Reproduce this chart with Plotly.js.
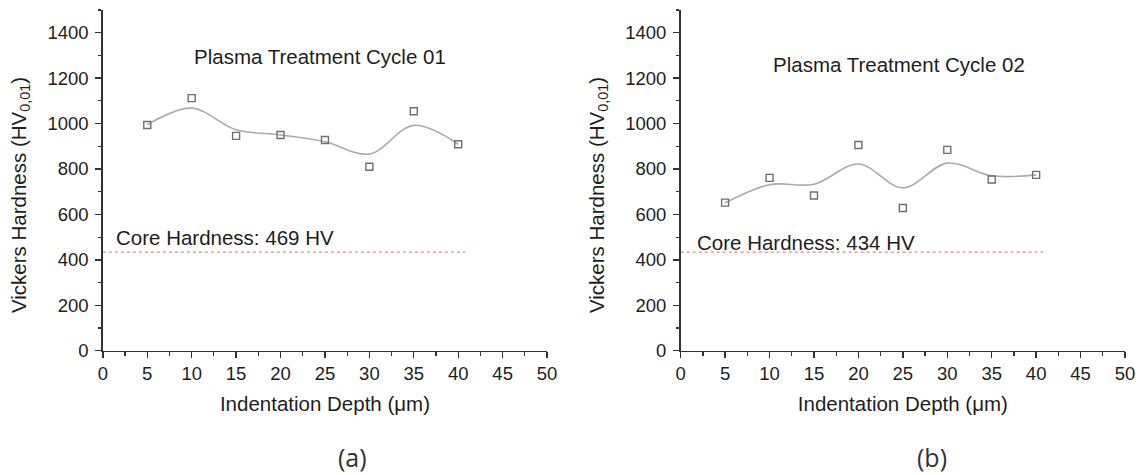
<!DOCTYPE html>
<html>
<head>
<meta charset="utf-8">
<script src="https://cdn.plot.ly/plotly-3.0.1.min.js"></script>
<style>
  html, body { margin: 0; padding: 0; background: #ffffff; }
  #chart { width: 1144px; height: 475px; }
</style>
</head>
<body>
<div id="chart"></div>
<script>
// ---- data ----
const depth = [5, 10, 15, 20, 25, 30, 35, 40];

// Panel (a): Plasma Treatment Cycle 01
const hardnessA = [994, 1112, 946, 950, 928, 810, 1054, 909];
const fitA      = [995, 1068, 973, 950, 920, 866, 992, 909];

// Panel (b): Plasma Treatment Cycle 02
const hardnessB = [652, 761, 683, 906, 628, 884, 754, 774];
const fitB      = [651, 731, 733, 822, 717, 826, 770, 774];

const coreX = [0, 40.8];
const coreA = [434, 434];
const coreB = [434, 434];

const titleA = 'Plasma Treatment Cycle 01';
const titleB = 'Plasma Treatment Cycle 02';
const coreLabelA = 'Core Hardness: 469 HV';
const coreLabelB = 'Core Hardness: 434 HV';
const panelLabels = ['(a)', '(b)'];

const xTitle = 'Indentation Depth (\u03bcm)';
const yTitle = 'Vickers Hardness (HV<sub>0,01</sub>)';

// ---- styling ----
const FONT = '"Liberation Sans", Arial, sans-serif';
const TXT = { family: FONT, size: 20.5, color: '#1e1e1e' };
const markerStyle = { symbol: 'square-open', size: 7, color: '#707070', line: { width: 1.4, color: '#707070' } };
const fitStyle = { color: '#ababab', width: 1.6, shape: 'spline', smoothing: 1 };
const coreStyle = { color: '#e08a8a', width: 1.3, dash: 'dot' };

function traces(xa, ya, pts, fit, core) {
  return [
    { x: depth, y: fit, xaxis: xa, yaxis: ya, type: 'scatter', mode: 'lines', line: fitStyle, hoverinfo: 'skip', showlegend: false },
    { x: depth, y: pts, xaxis: xa, yaxis: ya, type: 'scatter', mode: 'markers', marker: markerStyle, showlegend: false },
    { x: coreX, y: core, xaxis: xa, yaxis: ya, type: 'scatter', mode: 'lines', line: coreStyle, hoverinfo: 'skip', showlegend: false }
  ];
}

const data = [].concat(
  traces('x', 'y', hardnessA, fitA, coreA),
  traces('x2', 'y2', hardnessB, fitB, coreB)
);

function xAxis(domain, anchor) {
  return {
    domain: domain, anchor: anchor, range: [0, 50], dtick: 5, tick0: 0,
    showline: true, linecolor: '#333', linewidth: 1.6, mirror: false,
    ticks: 'outside', ticklen: 6, tickwidth: 1.4, tickcolor: '#333',
    minor: { dtick: 2.5, ticks: 'outside', ticklen: 3.5, tickwidth: 1.2, tickcolor: '#333', showgrid: false },
    showgrid: false, zeroline: false,
    tickfont: { family: FONT, size: 18.5, color: '#1e1e1e' },
    title: { text: xTitle, font: TXT, standoff: 13 },
    fixedrange: true
  };
}
function yAxis(domain, anchor) {
  return {
    domain: domain, anchor: anchor, range: [0, 1500], dtick: 200, tick0: 0,
    showline: true, linecolor: '#333', linewidth: 1.6, mirror: false,
    ticks: 'outside', ticklen: 6, tickwidth: 1.4, tickcolor: '#333',
    minor: { dtick: 100, ticks: 'outside', ticklen: 3.5, tickwidth: 1.2, tickcolor: '#333', showgrid: false },
    showgrid: false, zeroline: false,
    ticklabelstandoff: 3,
    tickfont: { family: FONT, size: 18.5, color: '#1e1e1e' },
    fixedrange: true
  };
}

const yDom = [0.2617, 0.9789];
const layout = {
  width: 1144, height: 475,
  margin: { l: 0, r: 0, t: 0, b: 0 },
  paper_bgcolor: '#ffffff', plot_bgcolor: '#ffffff',
  showlegend: false,
  xaxis: xAxis([0.0899, 0.4782], 'y'),
  yaxis: yAxis(yDom, 'x'),
  xaxis2: xAxis([0.5950, 0.9834], 'y2'),
  yaxis2: yAxis(yDom, 'x2'),
  annotations: [
    { xref: 'x', yref: 'y', x: 24.4, y: 1295, text: titleA, xanchor: 'center', showarrow: false, font: TXT },
    { xref: 'x2', yref: 'y2', x: 24.6, y: 1262, text: titleB, xanchor: 'center', showarrow: false, font: TXT },
    { xref: 'x', yref: 'y', x: 1.3, y: 500, text: coreLabelA, xanchor: 'left', showarrow: false, font: TXT },
    { xref: 'x2', yref: 'y2', x: 1.6, y: 476, text: coreLabelB, xanchor: 'left', showarrow: false, font: TXT },
    { xref: 'paper', yref: 'paper', x: 20 / 1144, y: (475 - 195) / 475, xanchor: 'center', yanchor: 'middle', text: yTitle, textangle: -90, showarrow: false, font: TXT },
    { xref: 'paper', yref: 'paper', x: 598 / 1144, y: (475 - 195) / 475, xanchor: 'center', yanchor: 'middle', text: yTitle, textangle: -90, showarrow: false, font: TXT },
    { xref: 'paper', yref: 'paper', x: 352 / 1144, y: (475 - 457) / 475, xanchor: 'center', yanchor: 'middle', text: panelLabels[0], showarrow: false, font: { family: 'Open Sans, Noto Sans, sans-serif', size: 25, color: '#333' } },
    { xref: 'paper', yref: 'paper', x: 932 / 1144, y: (475 - 457) / 475, xanchor: 'center', yanchor: 'middle', text: panelLabels[1], showarrow: false, font: { family: 'Open Sans, Noto Sans, sans-serif', size: 25, color: '#333' } }
  ]
};

Plotly.newPlot('chart', data, layout, { staticPlot: true, displayModeBar: false });
</script>
</body>
</html>
